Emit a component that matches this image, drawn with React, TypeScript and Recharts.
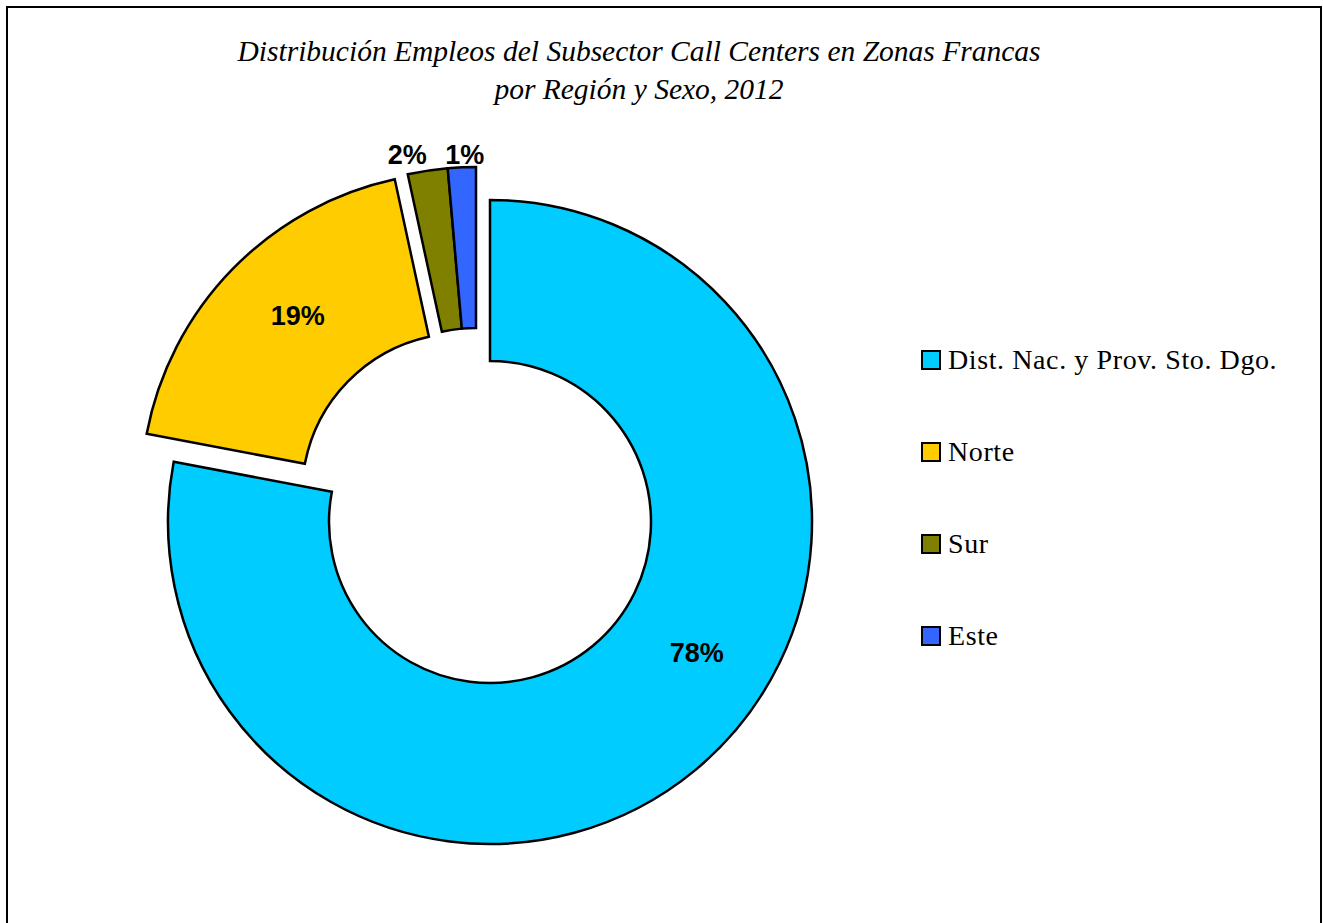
import { PieChart, Pie, Cell, Legend } from "recharts";

const categories = ["Dist. Nac. y Prov. Sto. Dgo.", "Norte", "Sur", "Este"];
const shares = [78, 18.6, 2.0, 1.4];
const colors = ["#00CCFF", "#FFCC00", "#808000", "#3366FF"];

const data = categories.map((name, i) => ({ name, value: shares[i] }));

// exploded groups: which slices each Pie draws and how far it is pulled out
const groups = [
  { show: [0], dx: 0, dy: 0 },
  { show: [1], dx: -27, dy: -28 },
  { show: [2, 3], dx: -14, dy: -33 },
];

// label placement tweaks per slice (angle shift in degrees, radius)
const labelTweak = [
  { da: 18, r: 245 },
  { da: -2.9, r: 243 },
  { da: 3, r: 341 },
  { da: -0.6, r: 334 },
];

const CX = 490;
const CY = 522;
const RAD = Math.PI / 180;

const renderLabel = (show: number[]) => (props: any) => {
  const { cx, cy, midAngle, percent, index } = props;
  if (!show.includes(index)) return null;
  const t = labelTweak[index];
  const a = midAngle + t.da;
  const x = cx + t.r * Math.cos(-a * RAD);
  const y = cy + t.r * Math.sin(-a * RAD);
  return (
    <text
      x={x}
      y={y}
      textAnchor="middle"
      dominantBaseline="central"
      fill="#000"
      style={{ fontFamily: "'Liberation Sans', Arial, sans-serif", fontWeight: 700, fontSize: 27 }}
    >
      {`${Math.round(percent * 100)}%`}
    </text>
  );
};

const LegendBox = () => (
  <div
    style={{
      fontFamily: "'Liberation Serif', 'Times New Roman', serif",
      fontSize: 28,
      letterSpacing: 0.6,
      color: "#000",
    }}
  >
    {categories.map((c, i) => (
      <div key={c} style={{ display: "flex", alignItems: "center", height: 92 }}>
        <span
          style={{
            display: "inline-block",
            width: 16,
            height: 16,
            border: "2px solid #000",
            background: colors[i],
            marginRight: 7,
          }}
        />
        <span>{c}</span>
      </div>
    ))}
  </div>
);

export default function App() {
  return (
    <div style={{ position: "absolute", left: 0, top: 0, width: 1323, height: 923, background: "#fff", overflow: "hidden" }}>
      <div
        style={{
          position: "absolute",
          left: 6,
          top: 6,
          width: 1316,
          height: 940,
          border: "2px solid #000",
          boxSizing: "border-box",
        }}
      />
      <div
        style={{
          position: "absolute",
          left: 0,
          top: 32,
          width: 1278,
          textAlign: "center",
          fontFamily: "'Liberation Serif', 'Times New Roman', serif",
          fontStyle: "italic",
          fontSize: 29.5,
          lineHeight: "38px",
          color: "#000",
        }}
      >
        <div>Distribución Empleos del Subsector Call Centers en Zonas Francas</div>
        <div>por Región y Sexo, 2012</div>
      </div>
      <div style={{ position: "absolute", left: 0, top: 0 }}>
        <PieChart width={1323} height={923} margin={{ top: 0, right: 0, bottom: 0, left: 0 }}>
          {groups.map((g, gi) => (
            <Pie
              key={gi}
              data={data}
              dataKey="value"
              nameKey="name"
              cx={CX + g.dx}
              cy={CY + g.dy}
              innerRadius={161}
              outerRadius={322}
              startAngle={90}
              endAngle={-270}
              isAnimationActive={false}
              labelLine={false}
              label={renderLabel(g.show)}
              legendType="none"
            >
              {data.map((d, i) => (
                <Cell
                  key={d.name}
                  fill={g.show.includes(i) ? colors[i] : "none"}
                  stroke={g.show.includes(i) ? "#000" : "none"}
                  strokeWidth={2.5}
                />
              ))}
            </Pie>
          ))}
          <Legend
            layout="vertical"
            content={() => <LegendBox />}
            wrapperStyle={{ position: "absolute", left: 921, top: 314, width: 400 }}
          />
        </PieChart>
      </div>
    </div>
  );
}
